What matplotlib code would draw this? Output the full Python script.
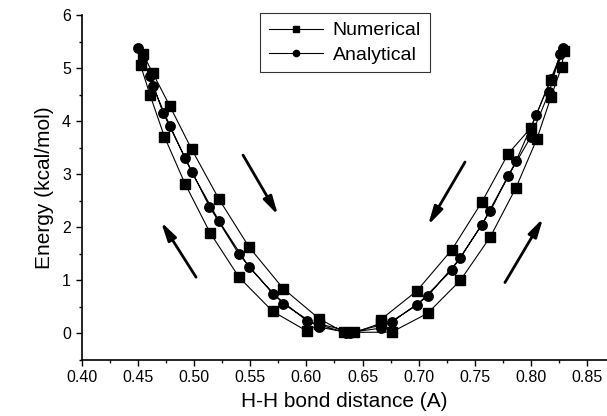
# -*- coding:utf-8 -*-
# H-H bond energy: numerical vs analytical
import matplotlib
matplotlib.use("Agg")
import matplotlib.pyplot as plt
from matplotlib.lines import Line2D

plt.rcParams['font.family'] = ['Liberation Sans', 'DejaVu Sans']

# numerical (squares), in path order
num_x = [0.4545, 0.4633, 0.4787, 0.4980, 0.5223, 0.5490, 0.5795, 0.6113, 0.6337,
         0.6759, 0.7079, 0.7370, 0.7637, 0.7866, 0.8050, 0.8176, 0.8272, 0.8293,
         0.8176, 0.7996, 0.7797, 0.7560, 0.7292, 0.6982, 0.6662, 0.6662, 0.6428,
         0.6113, 0.6009, 0.5701, 0.5401, 0.5143, 0.4921, 0.4737, 0.4610, 0.4526]
num_e = [5.27, 4.91, 4.28, 3.47, 2.53, 1.63, 0.845, 0.28, 0.02,
         0.025, 0.38, 1.00, 1.82, 2.75, 3.66, 4.45, 5.03, 5.33,
         4.78, 3.87, 3.39, 2.47, 1.57, 0.80, 0.26, 0.19, 0.02,
         0.18, 0.04, 0.416, 1.06, 1.90, 2.82, 3.71, 4.49, 5.05]

# analytical (circles), in path order
ana_x = [0.4505, 0.4610, 0.4727, 0.4921, 0.5138, 0.5401, 0.5701, 0.6009, 0.6357,
         0.6662, 0.6982, 0.7292, 0.7560, 0.7797, 0.7996, 0.8161, 0.8257, 0.8287,
         0.8176, 0.8044, 0.7866, 0.7637, 0.7370, 0.7079, 0.6759, 0.6388,
         0.6113, 0.5793, 0.5490, 0.5223, 0.4980, 0.4787, 0.4633, 0.4545]
ana_e = [5.37, 4.85, 4.15, 3.31, 2.39, 1.49, 0.75, 0.23, 0.01,
         0.10, 0.53, 1.19, 2.04, 2.97, 3.70, 4.55, 5.26, 5.38,
         4.80, 4.11, 3.25, 2.31, 1.42, 0.70, 0.21, 0.01,
         0.12, 0.56, 1.25, 2.12, 3.04, 3.91, 4.66, 5.20]

# arrows (start, end)
arrows = [((0.5437, 3.36), (0.5748, 2.23)),
          ((0.5019, 1.06), (0.4708, 2.10)),
          ((0.7412, 3.23), (0.7083, 2.04)),
          ((0.7767, 0.96), (0.8106, 2.17))]

fig = plt.figure(figsize=(6.07, 4.16), dpi=100)
ax = fig.add_axes([0.1343, 0.1346, 0.8657, 0.8293])

ax.plot(num_x, num_e, 'k-', lw=0.8, marker='s', ms=6.8, zorder=2)
ax.plot(ana_x, ana_e, 'k-', lw=0.8, marker='o', ms=6.8, zorder=3)

for (x0, y0), (x1, y1) in arrows:
    ax.annotate('', xy=(x1, y1), xytext=(x0, y0),
                arrowprops=dict(arrowstyle='-|>,head_length=1.1,head_width=0.28',
                                color='k', lw=2.0, shrinkA=0, shrinkB=0))

ax.set_xlim(0.40, 0.8675)
ax.set_ylim(-0.5, 6)
ax.set_xticks([0.40, 0.45, 0.50, 0.55, 0.60, 0.65, 0.70, 0.75, 0.80, 0.85])
ax.set_xticklabels(['0.40', '0.45', '0.50', '0.55', '0.60', '0.65', '0.70', '0.75', '0.80', '0.85'])
ax.set_xticks([0.425 + 0.05 * i for i in range(9)], minor=True)
ax.set_yticks([0, 1, 2, 3, 4, 5, 6])
ax.set_yticks([-0.5, 0.5, 1.5, 2.5, 3.5, 4.5, 5.5], minor=True)
ax.tick_params(which='major', direction='out', length=4, width=1, labelsize=11.5)
ax.tick_params(which='minor', direction='out', length=2.5, width=1)
ax.spines['top'].set_visible(False)
ax.spines['right'].set_visible(False)
ax.spines['left'].set_linewidth(1.2)
ax.spines['bottom'].set_linewidth(1.2)

ax.set_xlabel('H-H bond distance (A)', fontsize=15, labelpad=5)
ax.set_ylabel('Energy (kcal/mol)', fontsize=15, labelpad=6)

handles = [Line2D([], [], color='k', lw=0.8, marker='s', ms=4.5),
           Line2D([], [], color='k', lw=0.8, marker='o', ms=4.5)]
leg = ax.legend(handles, ['Numerical', 'Analytical'], loc='upper center',
                bbox_to_anchor=(0.501, 1.006), fontsize=14, frameon=True,
                fancybox=False, handlelength=2.8, borderaxespad=0,
                labelspacing=0.35, handletextpad=0.5, borderpad=0.45)
leg.get_frame().set_edgecolor('k')
leg.get_frame().set_linewidth(0.8)

plt.savefig('out.png', dpi=100)
